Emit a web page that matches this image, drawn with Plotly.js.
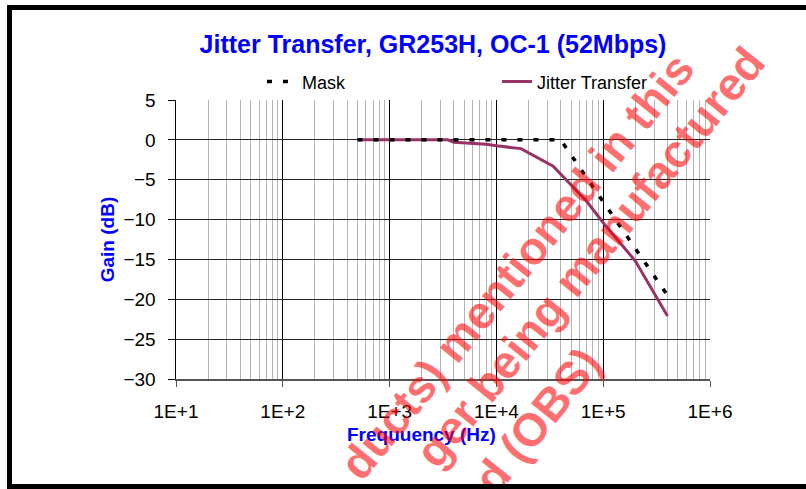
<!DOCTYPE html>
<html>
<head>
<meta charset="utf-8">
<script src="https://cdn.plot.ly/plotly-3.0.1.min.js"></script>
<style>
  html, body { margin: 0; padding: 0; background: #fff; }
  #wrap { position: relative; width: 806px; height: 489px; overflow: hidden; }
  #chart { position: absolute; left: 0; top: 0; width: 806px; height: 489px; }
  #frame { position: absolute; left: 7px; top: 5px; width: 820px; height: 484px;
           box-sizing: border-box; border: 5px solid #000; pointer-events: none; }
</style>
</head>
<body>
<div id="wrap"><div id="chart"></div><div id="frame"></div></div>
<script>
// ---- data ----
const maskFreq = [500, 1000, 2000, 5000, 10000, 20000, 40000, 400000];
const maskGain = [0, 0, 0, 0, 0, 0, 0, -19.5];

const jitterFreq = [500, 1000, 2000, 3500, 4000, 8000, 10000, 17000, 34000, 70000, 100000, 200000, 400000];
const jitterGain = [0, 0, 0, 0, -0.3, -0.55, -0.75, -1.1, -3.3, -7.7, -10.4, -15.2, -22.1];

const xTickVals = [10, 100, 1000, 10000, 100000, 1000000];
const xTickText = ['1E+1', '1E+2', '1E+3', '1E+4', '1E+5', '1E+6'];
const yTickVals = [-30, -25, -20, -15, -10, -5, 0, 5];
const yGridVals = [-30, -25, -20, -15, -10, -5, 0];

const titleText = 'Jitter Transfer, GR253H, OC-1 (52Mbps)';
const xTitleText = 'Frequuency (Hz)';
const yTitleText = 'Gain (dB)';
const watermarkLines = ['ducts) mentioned in this', 'ger being manufactured', 'd (OBS)'];

const FONT = 'Liberation Sans, Arial, sans-serif';

const traces = [
  { x: jitterFreq, y: jitterGain, name: 'Jitter Transfer', type: 'scatter', mode: 'lines',
    line: { color: '#993366', width: 3 } },
  { x: maskFreq, y: maskGain, name: 'Mask', type: 'scatter', mode: 'lines',
    line: { color: '#000000', width: 3.5, dash: '5px,11px' } }
];

const W = 534, H = 279, L = 176, T = 100;
function px2paper(px, py) { return { x: (px - L) / W, y: 1 - (py - T) / H }; }
const wmCenters = [[517, 266], [590, 257], [537, 421]];
const annotations = watermarkLines.map((t, i) => {
  const p = px2paper(wmCenters[i][0], wmCenters[i][1]);
  return { text: '<b>' + t + '</b>', xref: 'paper', yref: 'paper', x: p.x, y: p.y,
           xanchor: 'center', yanchor: 'middle', showarrow: false, textangle: -51,
           font: { family: FONT, size: 46, color: 'rgba(255,0,0,0.57)' } };
});
const xt = px2paper(421, 435);
annotations.unshift({ text: '<b>' + xTitleText + '</b>', xref: 'paper', yref: 'paper',
  x: xt.x, y: xt.y, xanchor: 'center', yanchor: 'middle', showarrow: false,
  font: { family: FONT, size: 19, color: '#0000ff' } });

const layout = {
  width: 806, height: 489,
  margin: { l: 176, r: 96, t: 100, b: 110 },
  paper_bgcolor: '#ffffff', plot_bgcolor: '#ffffff',
  font: { family: FONT, color: '#000' },
  showlegend: true,
  title: { text: '<b>' + titleText + '</b>', x: 433 / 806, xref: 'container', xanchor: 'center',
           y: 1 - 44 / 489, yref: 'container', yanchor: 'middle',
           font: { family: FONT, size: 25, color: '#0000ff' } },
  legend: { orientation: 'h', x: 0.161, xanchor: 'left', y: 1.065, yanchor: 'middle',
            traceorder: 'reversed', entrywidth: 190, entrywidthmode: 'pixels',
            font: { family: FONT, size: 18, color: '#000' }, bgcolor: 'rgba(0,0,0,0)' },
  xaxis: { type: 'log', range: [1, 6], tickmode: 'array', tickvals: xTickVals, ticktext: xTickText,
           ticks: 'outside', ticklen: 6, tickcolor: '#555', tickwidth: 1,
           ticklabelstandoff: 8,
           showgrid: true, gridcolor: '#000', gridwidth: 1,
           minor: { dtick: 'D1', showgrid: true, gridcolor: '#b4b4b4', gridwidth: 1, ticks: '' },
           showline: true, linecolor: '#555', linewidth: 2,
           zeroline: false, tickfont: { family: FONT, size: 19, color: '#000' } },
  yaxis: { range: [-30, 5], tickmode: 'array', tickvals: yTickVals,
           ticks: 'outside', ticklen: 7, tickcolor: '#000', tickwidth: 1,
           ticklabelstandoff: 8,
           showgrid: false,
           showline: true, linecolor: '#000', linewidth: 1.5,
           zeroline: false, tickfont: { family: FONT, size: 19, color: '#000' },
           title: { text: '<b>' + yTitleText + '</b>', standoff: 4,
                    font: { family: FONT, size: 19, color: '#0000ff' } } },
  yaxis2: { overlaying: 'y', range: [-30, 5], tickmode: 'array', tickvals: yGridVals,
            showticklabels: false, ticks: '', showgrid: true, gridcolor: '#222', gridwidth: 1,
            zeroline: false, showline: false },
  annotations: annotations
};

// invisible helper trace so yaxis2 (gridlines only) is active
traces.unshift({ x: [jitterFreq[0]], y: [jitterGain[0]], yaxis: 'y2', type: 'scatter', mode: 'markers',
  marker: { opacity: 0 }, showlegend: false, hoverinfo: 'skip' });

Plotly.newPlot('chart', traces, layout, { staticPlot: true, displayModeBar: false });
</script>
</body>
</html>
